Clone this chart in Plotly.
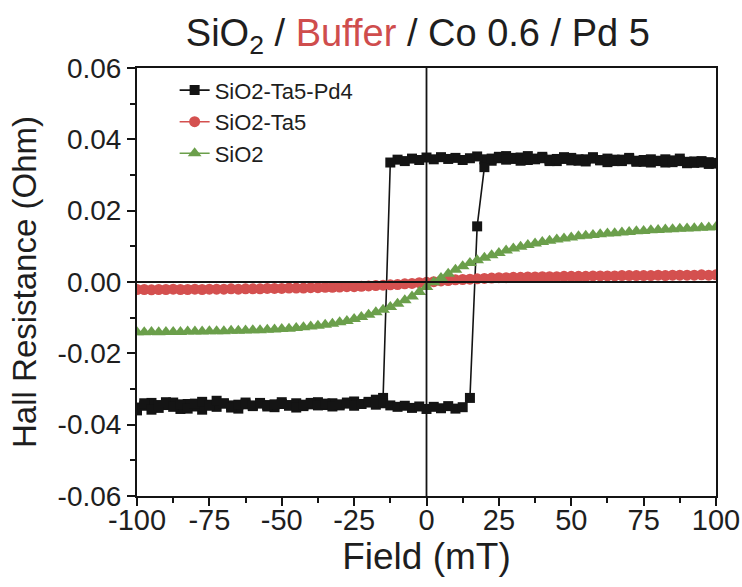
import plotly.graph_objects as go

# Applied field grid (mT), shared by every sweep
FIELD = [
    -100, -97.5, -95, -92.5, -90, -87.5, -85, -82.5, -80, -77.5,
    -75, -72.5, -70, -67.5, -65, -62.5, -60, -57.5, -55, -52.5,
    -50, -47.5, -45, -42.5, -40, -37.5, -35, -32.5, -30, -27.5,
    -25, -22.5, -20, -17.5, -15, -12.5, -10, -7.5, -5, -2.5,
    0, 2.5, 5, 7.5, 10, 12.5, 15, 17.5, 20, 22.5,
    25, 27.5, 30, 32.5, 35, 37.5, 40, 42.5, 45, 47.5,
    50, 52.5, 55, 57.5, 60, 62.5, 65, 67.5, 70, 72.5,
    75, 77.5, 80, 82.5, 85, 87.5, 90, 92.5, 95, 97.5, 100,
]

# SiO2-Ta5-Pd4: branch measured while sweeping the field down (listed by increasing field)
PD4_DOWN = [
    -0.0360, -0.0347, -0.0339, -0.0353, -0.0345, -0.0338, -0.0356, -0.0342, -0.0349, -0.0358,
    -0.0344, -0.0350, -0.0341, -0.0346, -0.0355, -0.0343, -0.0348, -0.0339, -0.0345, -0.0351,
    -0.0342, -0.0347, -0.0340, -0.0348, -0.0343, -0.0337, -0.0345, -0.0340, -0.0346, -0.0341,
    -0.0335, -0.0342, -0.0338, -0.0330, -0.0325, 0.0335, 0.0343, 0.0339, 0.0346, 0.0342,
    0.0349, 0.0344, 0.0350, 0.0345, 0.0348, 0.0342, 0.0347, 0.0352, 0.0344, 0.0340,
    0.0347, 0.0353, 0.0345, 0.0349, 0.0342, 0.0346, 0.0351, 0.0343, 0.0339, 0.0345,
    0.0348, 0.0340, 0.0344, 0.0350, 0.0342, 0.0346, 0.0339, 0.0343, 0.0348, 0.0340,
    0.0337, 0.0344, 0.0339, 0.0335, 0.0341, 0.0346, 0.0337, 0.0334, 0.0339, 0.0336, 0.0332,
]

# SiO2-Ta5-Pd4: branch measured while sweeping the field up
PD4_UP = [
    -0.0352, -0.0340, -0.0358, -0.0345, -0.0337, -0.0350, -0.0343, -0.0355, -0.0341, -0.0336,
    -0.0347, -0.0333, -0.0340, -0.0352, -0.0344, -0.0338, -0.0346, -0.0341, -0.0349, -0.0343,
    -0.0337, -0.0345, -0.0352, -0.0344, -0.0339, -0.0346, -0.0341, -0.0349, -0.0343, -0.0338,
    -0.0347, -0.0342, -0.0336, -0.0344, -0.0340, -0.0346, -0.0350, -0.0347, -0.0353, -0.0349,
    -0.0356, -0.0350, -0.0354, -0.0348, -0.0355, -0.0351, -0.0325, 0.0156, 0.0322, 0.0346,
    0.0351, 0.0343, 0.0348, 0.0340, 0.0353, 0.0344, 0.0347, 0.0339, 0.0345, 0.0350,
    0.0341, 0.0344, 0.0338, 0.0346, 0.0341, 0.0336, 0.0343, 0.0339, 0.0344, 0.0337,
    0.0342, 0.0335, 0.0340, 0.0344, 0.0336, 0.0339, 0.0333, 0.0338, 0.0335, 0.0331, 0.0334,
]

# SiO2-Ta5
TA5 = [
    -0.0021, -0.0021, -0.0022, -0.0021, -0.0021, -0.0020, -0.0021, -0.0021, -0.0020, -0.0021,
    -0.0020, -0.0020, -0.0020, -0.0019, -0.0020, -0.0019, -0.0019, -0.0019, -0.0018, -0.0018,
    -0.0018, -0.0017, -0.0017, -0.0017, -0.0016, -0.0016, -0.0015, -0.0015, -0.0014, -0.0013,
    -0.0013, -0.0012, -0.0011, -0.0010, -0.0009, -0.0008, -0.0007, -0.0005, -0.0004, -0.0002,
    -0.0001, 0.0001, 0.0003, 0.0004, 0.0006, 0.0007, 0.0008, 0.0009, 0.0010, 0.0011,
    0.0012, 0.0012, 0.0013, 0.0013, 0.0014, 0.0014, 0.0015, 0.0015, 0.0015, 0.0016,
    0.0016, 0.0016, 0.0016, 0.0017, 0.0017, 0.0017, 0.0017, 0.0018, 0.0018, 0.0018,
    0.0018, 0.0018, 0.0019, 0.0018, 0.0019, 0.0019, 0.0019, 0.0019, 0.0020, 0.0019, 0.0020,
]

# SiO2
SIO2 = [
    -0.0141, -0.0141, -0.0140, -0.0141, -0.0140, -0.0140, -0.0140, -0.0139, -0.0139, -0.0139,
    -0.0138, -0.0138, -0.0138, -0.0137, -0.0137, -0.0136, -0.0135, -0.0135, -0.0134, -0.0133,
    -0.0132, -0.0131, -0.0129, -0.0127, -0.0125, -0.0123, -0.0120, -0.0117, -0.0113, -0.0109,
    -0.0104, -0.0098, -0.0092, -0.0085, -0.0078, -0.0070, -0.0061, -0.0051, -0.0041, -0.0028,
    -0.0014, -0.0001, 0.0011, 0.0023, 0.0034, 0.0044, 0.0053, 0.0061, 0.0068, 0.0075,
    0.0081, 0.0088, 0.0094, 0.0099, 0.0104, 0.0108, 0.0112, 0.0116, 0.0119, 0.0122,
    0.0125, 0.0128, 0.0130, 0.0132, 0.0134, 0.0136, 0.0137, 0.0139, 0.0140, 0.0142,
    0.0143, 0.0145, 0.0146, 0.0147, 0.0148, 0.0149, 0.0150, 0.0151, 0.0152, 0.0153, 0.0154,
]

X_TICKS = [-100, -75, -50, -25, 0, 25, 50, 75, 100]
X_TICK_LABELS = ["-100", "-75", "-50", "-25", "0", "25", "50", "75", "100"]
Y_TICKS = [-0.06, -0.04, -0.02, 0.0, 0.02, 0.04, 0.06]
Y_TICK_LABELS = ["-0.06", "-0.04", "-0.02", "0.00", "0.02", "0.04", "0.06"]

FONT = "Liberation Sans, Arial, sans-serif"
TEXT = "#1e1e1e"
BLACK = "#141414"
RED = "#d4504f"
GREEN = "#6b9f4b"

fig = go.Figure()

# full loop: down-sweep from +100 to -100, then up-sweep back to +100
fig.add_trace(go.Scatter(
    x=FIELD[::-1] + FIELD,
    y=PD4_DOWN[::-1] + PD4_UP,
    mode="lines+markers",
    name="SiO2-Ta5-Pd4",
    line=dict(color=BLACK, width=1.6),
    marker=dict(symbol="square", size=10, color=BLACK),
))
fig.add_trace(go.Scatter(
    x=FIELD, y=TA5,
    mode="lines+markers",
    name="SiO2-Ta5",
    line=dict(color=RED, width=1.6),
    marker=dict(symbol="circle", size=11, color=RED),
))
fig.add_trace(go.Scatter(
    x=FIELD, y=SIO2,
    mode="lines+markers",
    name="SiO2",
    line=dict(color=GREEN, width=1.6),
    marker=dict(symbol="triangle-up", size=12, color=GREEN),
))

# zero reference lines drawn over the data
fig.add_hline(y=0, line=dict(color=BLACK, width=1.8), layer="above")
fig.add_vline(x=0, line=dict(color=BLACK, width=1.8), layer="above")

axis_common = dict(
    showgrid=False,
    zeroline=False,
    showline=True,
    linecolor=BLACK,
    linewidth=2,
    mirror=True,
    ticks="outside",
    ticklen=8,
    tickwidth=2,
    tickcolor=BLACK,
    automargin=False,
)

fig.update_xaxes(
    **axis_common,
    range=[-100, 100],
    tickmode="array",
    tickvals=X_TICKS,
    ticktext=X_TICK_LABELS,
    tickfont=dict(size=29, color=TEXT, family=FONT),
    ticklabelstandoff=-11,
    minor=dict(tickmode="linear", tick0=-100, dtick=12.5, ticks="outside",
               ticklen=5, tickwidth=1.5, tickcolor=BLACK),
    title=dict(text="Field (mT)", font=dict(size=37, color=TEXT, family=FONT), standoff=3),
)
fig.update_yaxes(
    **axis_common,
    range=[-0.06, 0.06],
    tickmode="array",
    tickvals=Y_TICKS,
    ticktext=Y_TICK_LABELS,
    tickfont=dict(size=28, color=TEXT, family=FONT),
    minor=dict(tickmode="linear", tick0=-0.06, dtick=0.01, ticks="outside",
               ticklen=5, tickwidth=1.5, tickcolor=BLACK),
    title=dict(text="Hall Resistance (Ohm)", font=dict(size=33, color=TEXT, family=FONT), standoff=11),
)

fig.update_layout(
    width=742,
    height=587,
    margin=dict(l=137, r=26, t=68, b=91, autoexpand=False),
    paper_bgcolor="white",
    plot_bgcolor="white",
    font=dict(family=FONT, color=TEXT),
    title=dict(
        text="SiO<sub>2</sub> / <span style='color:#cf4d4d'>Buffer</span> / Co 0.6 / Pd 5",
        font=dict(size=38, color=TEXT, family=FONT),
        x=0.485, xref="paper", xanchor="center",
        y=0.945, yref="container", yanchor="middle",
    ),
    legend=dict(
        x=0.065, y=0.997, xanchor="left", yanchor="top",
        bgcolor="rgba(0,0,0,0)",
        font=dict(size=22, color=TEXT, family=FONT),
        tracegroupgap=0,
    ),
    showlegend=True,
)

fig.write_html("out.html")
